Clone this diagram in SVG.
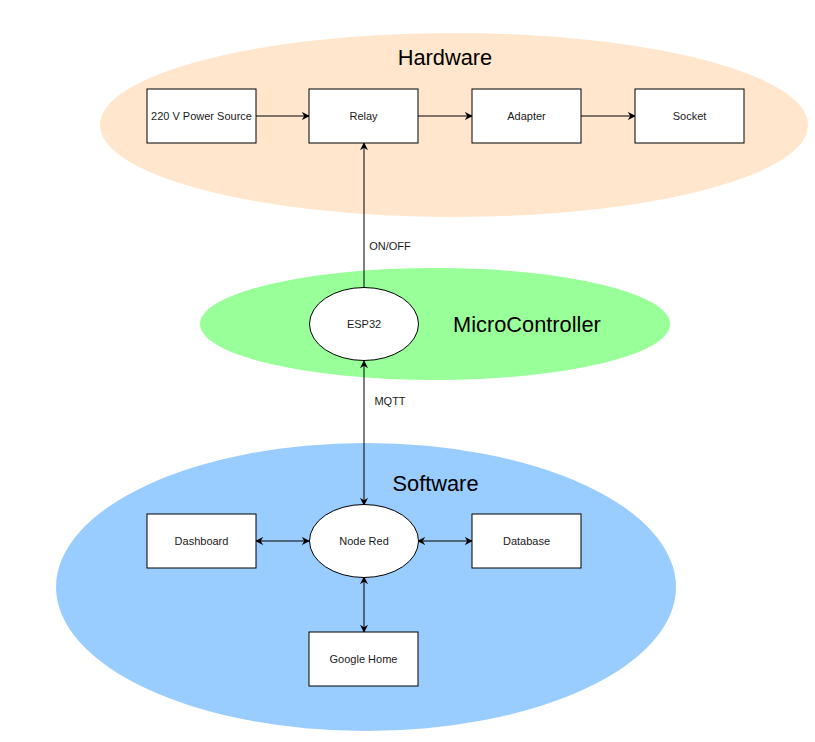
<svg xmlns="http://www.w3.org/2000/svg" width="815" height="742" viewBox="0 0 815 742">
<style>
.node{fill:#ffffff;stroke:#000000;stroke-width:1}
.lbl{font-family:"Liberation Sans",Arial,sans-serif;font-size:11px;fill:#1a1a1a;text-anchor:middle;dominant-baseline:central}
.title{font-family:"Liberation Sans",Arial,sans-serif;font-size:21.8px;fill:#000000;dominant-baseline:central}
.edge{stroke:#000000;stroke-width:1;fill:none}
</style>
<defs>
<marker id="arr" viewBox="0 0 10 10" refX="9" refY="5" markerWidth="8" markerHeight="8" markerUnits="userSpaceOnUse" orient="auto-start-reverse">
<path d="M0,0 L10,5 L0,10 L3,5 Z" fill="#000000"/>
</marker>
</defs>
<rect width="815" height="742" fill="#ffffff"/>
<g id="hardware-group">
<ellipse cx="454" cy="125" rx="354" ry="92" fill="#FFE6CC"/>
<text class="title" x="445" y="57" text-anchor="middle">Hardware</text>
</g>
<g id="micro-group">
<ellipse cx="435" cy="324" rx="235" ry="56" fill="#99FF99"/>
<text class="title" x="453" y="324">MicroController</text>
</g>
<g id="software-group">
<ellipse cx="366" cy="587" rx="310" ry="144" fill="#99CCFF"/>
<text class="title" x="435.5" y="483" text-anchor="middle">Software</text>
</g>
<g id="connectors">
<line class="edge" x1="256" y1="116" x2="309" y2="116" marker-end="url(#arr)"/>
<line class="edge" x1="418" y1="116" x2="472" y2="116" marker-end="url(#arr)"/>
<line class="edge" x1="581" y1="116" x2="635" y2="116" marker-end="url(#arr)"/>
<line class="edge" x1="364" y1="288" x2="364" y2="143" marker-end="url(#arr)"/>
<line class="edge" x1="364" y1="361" x2="364" y2="505" marker-start="url(#arr)" marker-end="url(#arr)"/>
<line class="edge" x1="256" y1="541" x2="309" y2="541" marker-start="url(#arr)" marker-end="url(#arr)"/>
<line class="edge" x1="418" y1="541" x2="472" y2="541" marker-start="url(#arr)" marker-end="url(#arr)"/>
<line class="edge" x1="364" y1="577" x2="364" y2="632" marker-start="url(#arr)" marker-end="url(#arr)"/>
<text class="lbl" x="390" y="246">ON/OFF</text>
<text class="lbl" x="390" y="401">MQTT</text>
</g>
<g id="power">
<rect class="node" x="147" y="89" width="109" height="54"/>
<text class="lbl" x="201.5" y="116">220 V Power Source</text>
</g>
<g id="relay">
<rect class="node" x="309" y="89" width="109" height="54"/>
<text class="lbl" x="363.5" y="116">Relay</text>
</g>
<g id="adapter">
<rect class="node" x="472" y="89" width="109" height="54"/>
<text class="lbl" x="526.5" y="116">Adapter</text>
</g>
<g id="socket">
<rect class="node" x="635" y="89" width="109" height="54"/>
<text class="lbl" x="689.5" y="116">Socket</text>
</g>
<g id="esp32">
<ellipse class="node" cx="364" cy="324" rx="54.5" ry="36.5"/>
<text class="lbl" x="364" y="324">ESP32</text>
</g>
<g id="nodered">
<ellipse class="node" cx="364" cy="541" rx="54.5" ry="36.5"/>
<text class="lbl" x="364" y="541">Node Red</text>
</g>
<g id="dashboard">
<rect class="node" x="147" y="514" width="109" height="54"/>
<text class="lbl" x="201.5" y="541">Dashboard</text>
</g>
<g id="database">
<rect class="node" x="472" y="514" width="109" height="54"/>
<text class="lbl" x="526.5" y="541">Database</text>
</g>
<g id="googlehome">
<rect class="node" x="309" y="632" width="109" height="54"/>
<text class="lbl" x="363.5" y="659">Google Home</text>
</g>
</svg>
